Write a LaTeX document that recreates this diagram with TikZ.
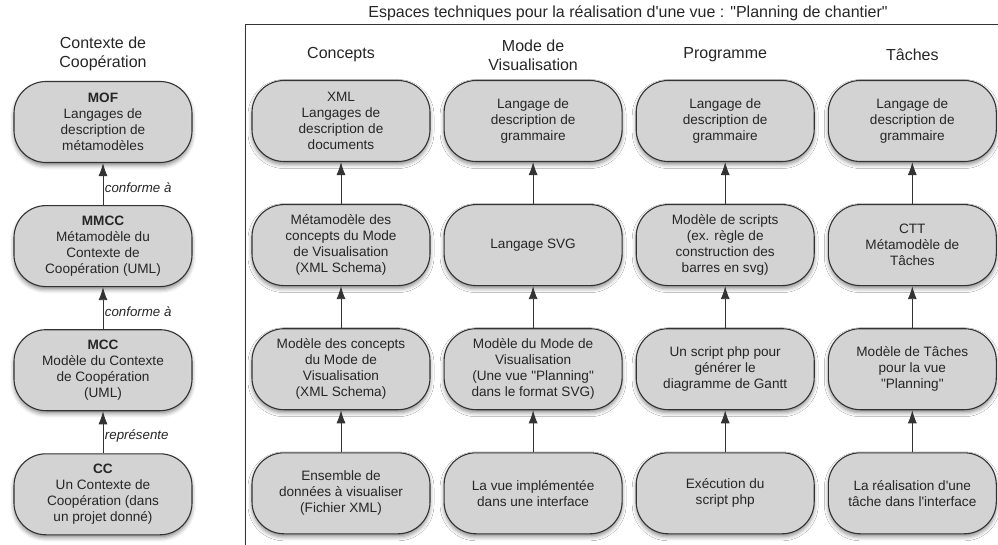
\documentclass[tikz,border=0pt]{standalone}
\usepackage{fontspec}
\setmainfont{Liberation Sans}
\usepackage{tikz}
\usetikzlibrary{arrows.meta,positioning,shadows.blur}
\definecolor{boxgray}{HTML}{D3D3D3}
\definecolor{linegray}{HTML}{333333}
\newcommand{\apos}{\textquotesingle}
\newcommand{\dq}{\textquotedbl}

\begin{document}
\begin{tikzpicture}[x=1pt, y=-1pt, node distance=42pt and 13pt,
  box/.style={draw=linegray, line width=1.1pt, rounded corners=32pt, fill=boxgray, align=center,
    font=\fontsize{13.6}{16}\selectfont, text=black!85, minimum width=178pt, minimum height=81pt, inner sep=2pt,
    blur shadow={shadow xshift=0pt, shadow yshift=-3pt, shadow blur radius=4pt, shadow opacity=45}},
  head/.style={align=center, font=\fontsize{16}{19}\selectfont, text=black!85},
  lbl/.style={font=\itshape\fontsize{13.3}{15}\selectfont, anchor=west, inner sep=1.5pt, text=black!85},
  arr/.style={-{Latex[length=13pt, width=9pt]}, draw=linegray, line width=0.9pt}]
  \useasboundingbox (0,0) rectangle (998,545);
  % cadre des espaces techniques
  \draw[draw=linegray, line width=1pt, fill=white,
    blur shadow={shadow xshift=2pt, shadow yshift=-2pt, shadow blur radius=3pt, shadow opacity=35}]
    (245,25) rectangle (1030,580);
  \node[head] (ttl) at (628,13) {Espaces techniques pour la réalisation d\apos une vue : \dq Planning de chantier\dq};
  % contexte de cooperation
  \node[head] (hctx) at (103,54) {Contexte de\\Coopération};
  \node[box] (mof) at (103,122) {\textbf{MOF}\\Langages de\\description de\\métamodèles};
  \node[box, below=of mof] (mmcc) {\textbf{MMCC}\\Métamodèle du\\Contexte de\\Coopération (UML)};
  \node[box, below=of mmcc] (mcc) {\textbf{MCC}\\Modèle du Contexte\\de Coopération\\(UML)};
  \node[box, below=of mcc] (cc) {\textbf{CC}\\Un Contexte de\\Coopération (dans\\un projet donné)};
  \draw[arr] (mmcc) -- node[lbl, pos=0.42] {conforme à} (mof);
  \draw[arr] (mcc) -- node[lbl, pos=0.42] {conforme à} (mmcc);
  \draw[arr] (cc) -- node[lbl, pos=0.42] {représente} (mcc);
  % concepts
  \node[box] (cxml) at (341,121) {XML\\Langages de\\description de\\documents};
  \node[box, below=of cxml] (cmeta) {Métamodèle des\\concepts du Mode\\de Visualisation\\(XML Schema)};
  \node[box, below=of cmeta] (cmod) {Modèle des concepts\\du Mode de\\Visualisation\\(XML Schema)};
  \node[box, below=of cmod] (cdata) {Ensemble de\\données à visualiser\\(Fichier XML)};
  % mode de visualisation
  \node[box, right=of cxml] (vgram) {Langage de\\description de\\grammaire};
  \node[box, below=of vgram] (vsvg) {Langage SVG};
  \node[box, below=of vsvg] (vmod) {Modèle du Mode de\\Visualisation\\(Une vue \dq Planning\dq\\dans le format SVG)};
  \node[box, below=of vmod] (vimpl) {La vue implémentée\\dans une interface};
  % programme
  \node[box, right=of vgram] (pgram) {Langage de\\description de\\grammaire};
  \node[box, below=of pgram] (pscr) {Modèle de scripts\\(ex. règle de\\construction des\\barres en svg)};
  \node[box, below=of pscr] (pphp) {Un script php pour\\générer le\\diagramme de Gantt};
  \node[box, below=of pphp] (pexec) {Exécution du\\script php};
  % taches
  \node[box, minimum width=168pt, right=of pgram] (tgram) {Langage de\\description de\\grammaire};
  \node[box, minimum width=168pt, below=of tgram] (tctt) {CTT\\Métamodèle de\\Tâches};
  \node[box, minimum width=168pt, below=of tctt] (tmod) {Modèle de Tâches\\pour la vue\\\dq Planning\dq};
  \node[box, minimum width=168pt, below=of tmod] (treal) {La réalisation d\apos une\\tâche dans l\apos interface};
  % en-tetes
  \node[head] (hconc) at (cxml.north |- 0,55) {Concepts};
  \node[head] (hvis) at (vgram.north |- 0,55) {Mode de\\Visualisation};
  \node[head] (hprog) at (pgram.north |- 0,55) {Programme};
  \node[head] (htach) at (tgram.north |- 0,55) {Tâches};
  % fleches
  \draw[arr] (cmeta) -- (cxml); \draw[arr] (cmod) -- (cmeta); \draw[arr] (cdata) -- (cmod);
  \draw[arr] (vsvg) -- (vgram); \draw[arr] (vmod) -- (vsvg); \draw[arr] (vimpl) -- (vmod);
  \draw[arr] (pscr) -- (pgram); \draw[arr] (pphp) -- (pscr); \draw[arr] (pexec) -- (pphp);
  \draw[arr] (tctt) -- (tgram); \draw[arr] (tmod) -- (tctt); \draw[arr] (treal) -- (tmod);
\end{tikzpicture}
\end{document}
